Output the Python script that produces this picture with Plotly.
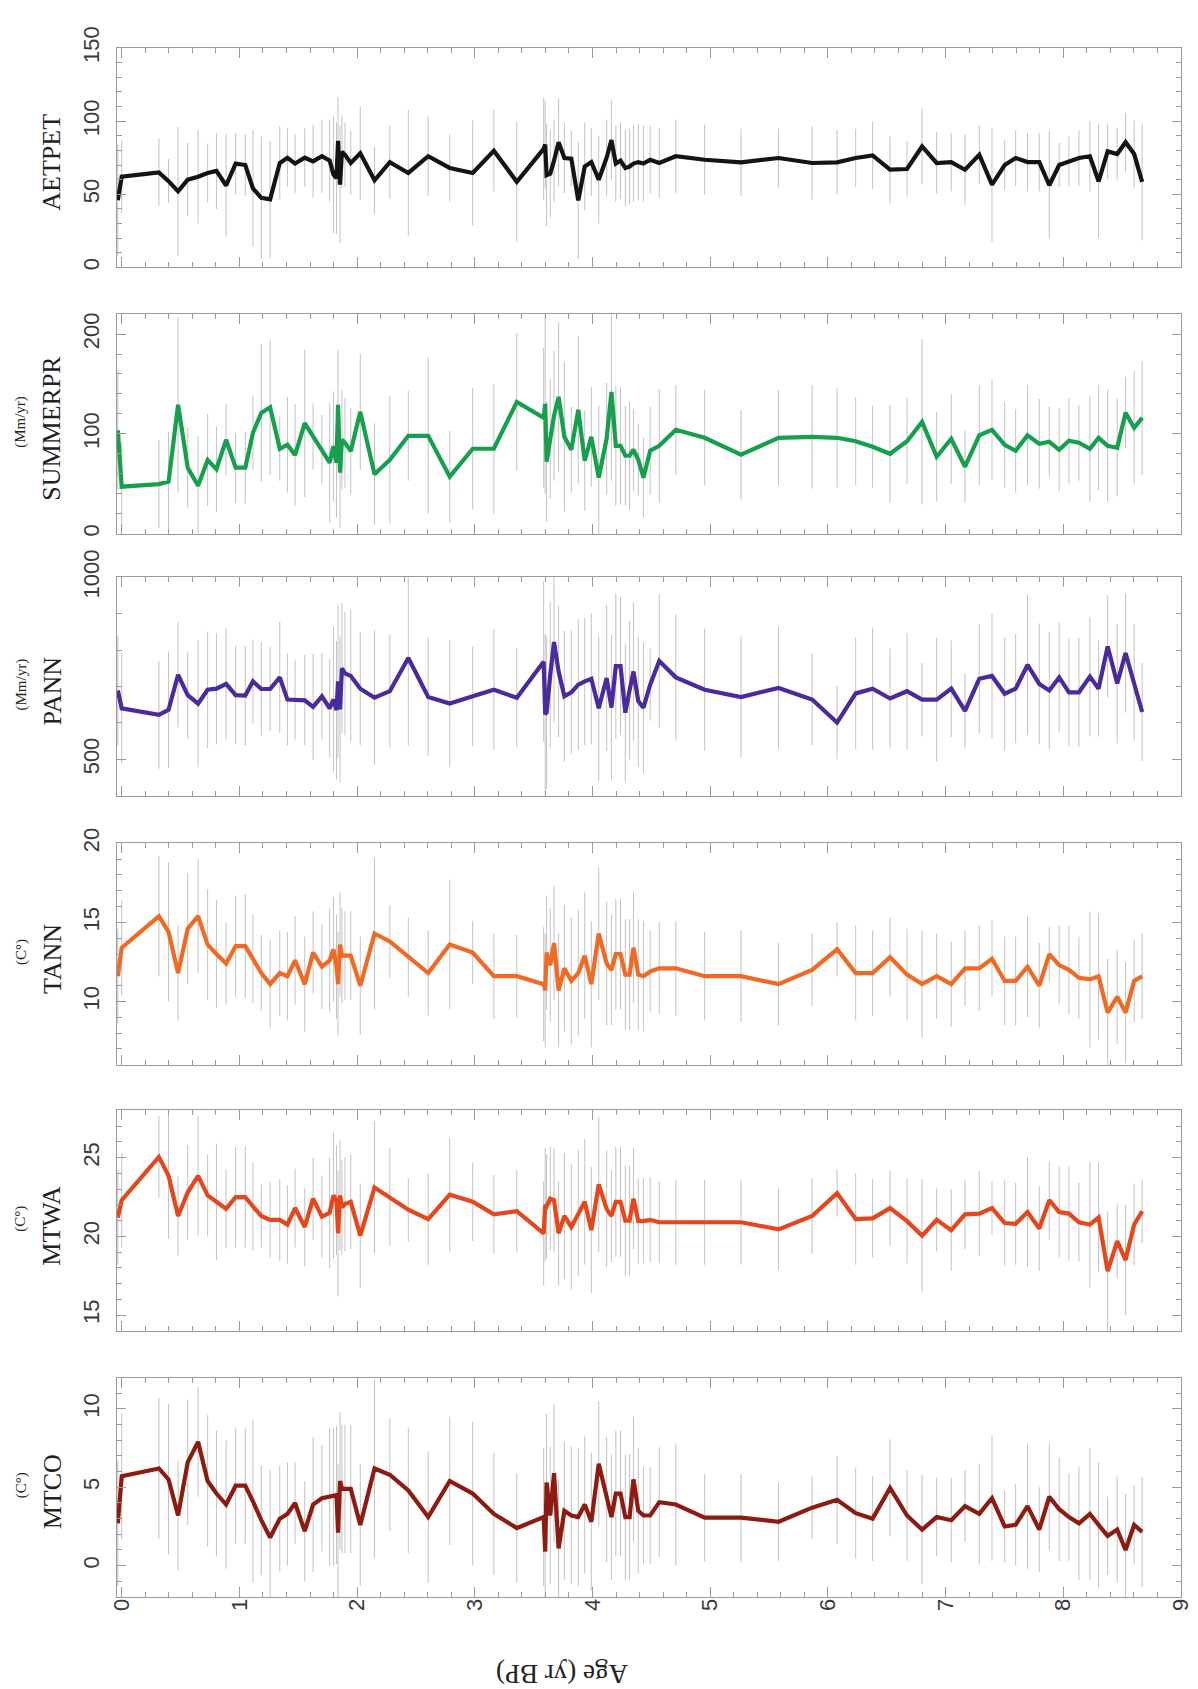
import plotly.graph_objects as go

# ---------------- data ----------------
AGES = [
    -0.033, 0.000, 0.316, 0.398, 0.479, 0.561, 0.649, 0.730, 0.805, 0.887,
    0.968, 1.050, 1.115, 1.186, 1.261, 1.343, 1.408, 1.473, 1.555, 1.626,
    1.701, 1.767, 1.799, 1.825, 1.838, 1.855, 1.871, 1.897, 1.946, 2.027,
    2.148, 2.278, 2.435, 2.604, 2.787, 2.982, 3.162, 3.357, 3.585, 3.598,
    3.610, 3.641, 3.673, 3.712, 3.761, 3.820, 3.879, 3.934, 3.990, 4.053,
    4.120, 4.161, 4.198, 4.238, 4.279, 4.315, 4.348, 4.389, 4.433, 4.490,
    4.567, 4.708, 4.953, 5.262, 5.581, 5.866, 6.078, 6.236, 6.380, 6.528,
    6.672, 6.800, 6.924, 7.048, 7.165, 7.286, 7.394, 7.502, 7.595, 7.696,
    7.796, 7.881, 7.965, 8.048, 8.133, 8.226, 8.300, 8.377, 8.458, 8.529,
    8.602, 8.670]

AETPET = [
    46, 62, 65, 59, 52, 60, 62, 64.6, 66, 56,
    71, 70, 54, 47.6, 46.5, 71.4, 75, 71, 75, 72.5,
    76, 73, 63.5, 61, 86.5, 56.6, 79, 77, 71.4, 78,
    59.6, 72, 64.6, 76, 68, 64.6, 79.8, 58.5, 81, 84,
    63, 64, 73, 85.6, 74.8, 74.3, 45.8, 69, 72, 60,
    75, 87, 71, 73, 68, 69, 71, 72, 71, 73.6,
    71.4, 76, 73.6, 71.8, 74.8, 71.4, 71.8, 74.8, 76.6, 66.8,
    67.3, 82.7, 71.4, 72, 66.8, 77, 56.6, 70, 74.8, 72,
    72, 56.2, 70, 72.5, 74.8, 76, 58.9, 79.3, 77.5, 85.6,
    77.5, 58.5]

SUMMERPR = [
    103.5, 47, 49.6, 52, 129, 66, 48, 73.7, 64.5, 94,
    66, 66, 101, 121, 126.6, 85, 89, 78.7, 110.7, 97.5,
    84, 71, 87.6, 71, 129, 61, 94, 91, 82.6, 122,
    59.5, 74, 98, 98, 57, 85, 85, 132, 116, 130,
    72, 95, 118, 137, 97, 84, 124, 73, 97, 56,
    95, 142, 88, 88, 78, 78, 84, 74, 56, 83,
    88, 104, 96, 79, 96, 97, 96, 92.6, 87, 80,
    92.6, 112, 77, 95, 67, 98.5, 104, 89, 83, 98.5,
    90, 92, 84, 93, 91, 85, 96, 88, 86, 121,
    106, 116]

PANN = [
    689, 640, 622, 636, 732, 676, 653, 691, 694, 707,
    676, 675, 714, 693, 693, 725, 664, 664, 662, 644,
    673, 640, 664, 635, 714, 637, 750, 736, 729, 694,
    669, 687, 778, 671, 653, 673, 691, 669, 768, 624,
    628, 732, 822, 741, 673, 684, 705, 714, 721, 640,
    723, 642, 756, 756, 628, 690, 741, 660, 642, 705,
    770, 725, 691, 671, 696, 664, 601, 681, 694, 667,
    687, 664, 664, 694, 633, 721, 729, 680, 694, 759,
    707, 689, 725, 684, 684, 727, 694, 810, 708, 792,
    711, 630]

TANN = [
    11.6, 13.4, 15.4, 14.4, 11.8, 14.6, 15.4, 13.6, 13.0, 12.4,
    13.5, 13.5, 12.7, 11.8, 11.1, 11.8, 11.6, 12.6, 11.1, 13.1,
    12.2, 12.6, 13.3, 12.2, 11.1, 13.6, 12.9, 12.9, 12.9, 11.0,
    14.3, 13.8, 12.8, 11.8, 13.6, 13.1, 11.6, 11.6, 11.1, 10.7,
    13.1, 12.3, 13.7, 10.7, 12.1, 11.3, 11.8, 12.9, 11.1, 14.3,
    12.4, 12.0, 13.0, 13.0, 11.7, 11.7, 13.4, 11.7, 11.6, 11.9,
    12.1, 12.1, 11.6, 11.6, 11.1, 12.0, 13.3, 11.8, 11.8, 12.8,
    11.7, 11.1, 11.6, 11.1, 12.1, 12.1, 12.7, 11.3, 11.3, 12.2,
    11.0, 13.0, 12.3, 12.0, 11.5, 11.4, 11.6, 9.3, 10.3, 9.3,
    11.3, 11.6]

MTWA = [
    21.2, 22.3, 25.05, 23.85, 21.3, 22.8, 23.85, 22.6, 22.2, 21.75,
    22.5, 22.5, 21.9, 21.3, 21.05, 21.05, 20.75, 21.8, 20.6, 22.4,
    21.25, 21.5, 22.6, 22.3, 20.2, 22.6, 21.85, 22.05, 22.2, 20.05,
    23.1, 22.5, 21.7, 21.1, 22.65, 22.2, 21.4, 21.6, 20.2, 22.0,
    21.9, 22.4, 22.3, 20.2, 21.3, 20.6, 21.5, 22.2, 20.4, 23.3,
    21.75, 21.3, 22.2, 22.2, 21.0, 21.0, 22.4, 20.97, 20.97, 21.05,
    20.9, 20.9, 20.9, 20.9, 20.45, 21.3, 22.75, 21.1, 21.15, 21.8,
    20.97, 20.05, 21.05, 20.4, 21.4, 21.45, 21.8, 20.85, 20.8, 21.55,
    20.5, 22.3, 21.55, 21.45, 20.9, 20.75, 21.2, 17.8, 19.7, 18.5,
    20.75, 21.6]

MTCO = [
    2.7, 5.7, 6.2, 5.5, 3.2, 6.6, 7.9, 5.4, 4.6, 3.9,
    5.1, 5.1, 4.1, 2.9, 1.8, 3.0, 3.3, 4.0, 2.2, 3.9,
    4.3, 4.4, 4.4, 4.5, 2.1, 5.4, 4.9, 4.9, 4.9, 2.6,
    6.2, 5.8, 4.8, 3.1, 5.4, 4.6, 3.3, 2.4, 3.1, 0.9,
    5.3, 3.2, 5.9, 1.1, 3.5, 3.2, 3.1, 3.9, 2.8, 6.5,
    4.2, 3.1, 4.6, 4.6, 3.1, 3.1, 5.5, 3.5, 3.2, 3.2,
    4.05, 3.9, 3.06, 3.06, 2.8, 3.7, 4.2, 3.35, 3.0, 4.96,
    3.2, 2.3, 3.1, 2.9, 3.8, 3.3, 4.3, 2.5, 2.6, 3.8,
    2.3, 4.4, 3.6, 3.1, 2.7, 3.3, 2.6, 1.9, 2.3, 1.0,
    2.6, 2.15]

# half-lengths of the grey uncertainty bars
AETPET_ERR = [
    38, 25, 23, 15, 44, 25, 32, 20, 26, 35,
    21, 21, 40, 42, 40, 25, 20, 20, 20, 25,
    25, 28, 40, 38, 30, 40, 25, 22, 22, 32,
    23, 25, 43, 27, 23, 36, 28, 41, 35, 30,
    35, 30, 28, 30, 24, 19, 40, 30, 23, 30,
    26, 27, 26, 26, 26, 26, 26, 26, 26, 23,
    24, 25, 24, 23, 20, 25, 22, 20, 23, 23,
    19, 26, 21, 20, 24, 20, 39, 17, 19, 20,
    20, 37, 15, 17, 19, 24, 39, 19, 18, 20,
    23, 40]

SUMMERPR_ERR = [
    60, 45, 44, 50, 88, 40, 50, 46, 43, 36,
    35, 36, 37, 69, 68, 32, 48, 51, 74, 33,
    35, 60, 55, 55, 55, 55, 50, 45, 43, 58,
    51, 64, 45, 78, 46, 61, 65, 69, 70, 90,
    60, 60, 65, 75, 75, 43, 74, 50, 50, 72,
    56, 89, 60, 59, 50, 54, 41, 36, 40, 44,
    57, 45, 48, 45, 48, 52, 50, 44, 41, 49,
    43, 83, 45, 45, 36, 50, 50, 43, 42, 50,
    45, 35, 42, 43, 38, 53, 53, 56, 49, 36,
    57, 57]

PANN_ERR = [
    150, 150, 148, 160, 144, 120, 175, 160, 153, 153,
    135, 137, 115, 128, 115, 153, 126, 110, 124, 146,
    119, 135, 200, 190, 210, 200, 180, 170, 180, 155,
    185, 155, 240, 162, 175, 137, 166, 137, 220, 220,
    210, 200, 220, 180, 180, 170, 180, 175, 180, 200,
    200, 200, 200, 190, 190, 190, 190, 180, 180, 99,
    184, 173, 168, 166, 168, 126, 101, 153, 168, 137,
    160, 101, 170, 133, 103, 150, 171, 155, 150, 193,
    166, 162, 150, 148, 150, 164, 132, 141, 164, 164,
    160, 135]

TANN_ERR = [
    3.0, 3.0, 3.8, 4.4, 3.0, 3.5, 3.6, 3.5, 3.4, 2.6,
    3.2, 3.3, 2.8, 2.4, 2.8, 2.7, 2.8, 2.8, 3.0, 2.6,
    2.7, 3.3, 3.3, 3.3, 3.3, 3.3, 3.0, 2.8, 2.8, 3.1,
    4.8, 2.3, 2.5, 2.7, 4.1, 2.0, 2.7, 2.6, 3.6, 3.6,
    3.6, 3.6, 3.6, 3.6, 4.0, 4.0, 4.0, 4.0, 4.0, 4.2,
    3.9, 3.5, 3.5, 3.5, 3.5, 3.5, 3.5, 3.5, 3.5, 2.6,
    2.9, 3.0, 2.8, 2.9, 2.6, 2.3, 1.7, 3.0, 2.7, 2.5,
    2.9, 3.4, 2.7, 2.7, 2.4, 2.7, 2.4, 2.8, 2.8, 3.2,
    2.7, 1.7, 2.5, 2.8, 2.6, 4.3, 4.0, 3.4, 3.0, 3.2,
    2.6, 2.7]

MTWA_ERR = [
    3.0, 3.0, 2.6, 4.0, 2.5, 3.0, 3.8, 2.6, 3.7, 2.5,
    3.2, 3.2, 2.8, 2.0, 2.4, 2.6, 2.5, 2.5, 2.5, 2.6,
    2.6, 3.5, 4.0, 3.5, 4.0, 3.5, 3.0, 3.0, 3.0, 3.3,
    4.2, 3.1, 2.0, 2.9, 3.6, 2.5, 2.5, 2.6, 3.3, 3.6,
    3.3, 3.3, 3.3, 3.3, 4.0, 4.0, 4.0, 4.0, 4.0, 4.3,
    3.7, 2.9, 3.5, 3.5, 3.5, 3.5, 3.2, 2.7, 2.7, 2.7,
    2.6, 2.7, 2.7, 2.7, 2.6, 2.4, 1.5, 2.9, 2.5, 2.4,
    2.7, 3.6, 2.0, 2.6, 2.2, 2.7, 1.7, 2.7, 2.6, 3.5,
    2.7, 2.5, 2.9, 3.0, 2.5, 4.0, 3.5, 3.8, 2.4, 3.5,
    2.6, 2.0]

MTCO_ERR = [
    4.0, 4.0, 4.5, 4.8, 3.5, 4.0, 3.5, 4.2, 4.0, 4.1,
    3.7, 3.7, 5.2, 3.5, 4.3, 3.4, 3.3, 2.6, 3.2, 4.3,
    3.4, 4.4, 4.4, 4.4, 4.4, 4.4, 4.1, 4.1, 4.1, 3.9,
    5.7, 3.6, 4.0, 4.2, 4.1, 4.6, 3.9, 3.5, 4.4, 4.4,
    4.4, 4.4, 4.4, 4.4, 4.4, 4.4, 4.4, 4.4, 4.4, 4.0,
    4.0, 4.0, 4.0, 4.0, 4.0, 4.0, 4.0, 4.0, 3.1, 3.1,
    3.5, 3.9, 2.8, 2.8, 2.5, 2.0, 2.8, 2.9, 2.7, 3.1,
    2.9, 3.5, 2.5, 2.7, 2.3, 3.2, 4.0, 2.3, 2.6, 4.0,
    2.7, 3.4, 3.3, 2.8, 3.6, 4.2, 4.0, 2.5, 3.4, 3.6,
    2.5, 3.5]

PANEL_NAMES = ["AETPET", "SUMMERPR", "PANN", "TANN", "MTWA", "MTCO"]
PANEL_UNITS = [None, "(Mm/yr)", "(Mm/yr)", "(C°)", "(C°)", "(C°)"]
X_TICKS = [0, 1, 2, 3, 4, 5, 6, 7, 8, 9]
X_TITLE = "Age (yr BP)"

# ---------------- styling / layout ----------------
COLORS = ["#141414", "#16a04e", "#4a2a9c", "#f06a24", "#e6461c", "#8e1b10"]
RANGES = [[0, 150], [0, 220], [400, 1000], [6, 20], [14, 28], [-2, 12]]
MAJOR = [50, 100, 500, 5, 5, 5]
MINOR = [10, 20, 100, 1, 1, 1]
VALUES = [AETPET, SUMMERPR, PANN, TANN, MTWA, MTCO]
ERRS = [AETPET_ERR, SUMMERPR_ERR, PANN_ERR, TANN_ERR, MTWA_ERR, MTCO_ERR]

W, H = 1198, 1689
ML, MR, MT, MB = 109, 25, 29, 100
PH = H - MT - MB
PW = W - ML - MR
# panel pixel tops/bottoms
PIX = [(29, 250), (297, 518), (562, 782), (830, 1053), (1099, 1321), (1368, 1589)]


def py(p):
    return (H - MB - p) / PH


def px(p):
    return (p - ML) / PW


for v, e in zip(VALUES, ERRS):
    assert len(v) == len(AGES) and len(e) == len(AGES)

fig = go.Figure()
layout = {}
annotations = []
SANS = "Liberation Sans, Arial, Helvetica, sans-serif"
SERIF = "Liberation Serif, Times New Roman, serif"
FRAME = "#9a9a9a"

for i in range(6):
    k = i + 1
    xs = "" if k == 1 else str(k)
    xa, ya = "x" + xs, "y" + xs
    fig.add_trace(go.Scatter(
        x=AGES, y=VALUES[i], mode="markers",
        marker=dict(size=1, color="rgba(0,0,0,0)"),
        error_y=dict(type="data", array=ERRS[i], visible=True,
                     color="rgba(135,135,135,0.5)", thickness=1, width=0),
        xaxis=xa, yaxis=ya, showlegend=False, hoverinfo="skip"))
    fig.add_trace(go.Scatter(
        x=AGES, y=VALUES[i], mode="lines",
        line=dict(color=COLORS[i], width=4.2),
        xaxis=xa, yaxis=ya, showlegend=False))

    top, bot = PIX[i]
    last = (k == 6)
    layout["xaxis" + xs] = dict(
        domain=[0, 1], range=[-0.04, 9.0], anchor=ya,
        tickmode="array", tickvals=X_TICKS,
        ticks="inside", ticklen=10, tickcolor=FRAME, tickwidth=1,
        minor=dict(dtick=0.2, tick0=0, ticks="inside", ticklen=5,
                   tickcolor=FRAME, showgrid=False),
        showticklabels=last, tickangle=-90, ticklabelstandoff=-8,
        tickfont=dict(family=SANS, size=22, color="#3a3a3a"),
        showline=True, linecolor=FRAME, linewidth=1, mirror="allticks",
        showgrid=False, zeroline=False)
    layout["yaxis" + xs] = dict(
        domain=[py(bot), py(top)], range=RANGES[i], anchor=xa,
        tickmode="linear", tick0=0, dtick=MAJOR[i],
        ticks="inside", ticklen=9, tickcolor=FRAME, tickwidth=1,
        minor=dict(dtick=MINOR[i], tick0=0, ticks="inside", ticklen=5,
                   tickcolor=FRAME, showgrid=False),
        tickangle=-90, ticklabelstandoff=8,
        tickfont=dict(family=SANS, size=22, color="#3a3a3a"),
        showline=True, linecolor=FRAME, linewidth=1, mirror="allticks",
        showgrid=False, zeroline=False)

    cy = py((top + bot) / 2 + 5)
    annotations.append(dict(
        text=PANEL_NAMES[i], xref="paper", yref="paper", x=px(44), y=cy,
        xanchor="center", yanchor="middle", textangle=-90, showarrow=False,
        font=dict(family=SERIF, size=26, color="#222222")))
    if PANEL_UNITS[i]:
        annotations.append(dict(
            text=PANEL_UNITS[i], xref="paper", yref="paper", x=px(13),
            y=py((top + bot) / 2 - 2),
            xanchor="center", yanchor="middle", textangle=-90, showarrow=False,
            font=dict(family=SERIF, size=15, color="#222222")))

annotations.append(dict(
    text=X_TITLE, xref="paper", yref="paper", x=px(554), y=py(1666),
    xanchor="center", yanchor="middle", textangle=180, showarrow=False,
    font=dict(family=SERIF, size=27, color="#222222")))

fig.update_layout(
    width=W, height=H,
    margin=dict(l=ML, r=MR, t=MT, b=MB),
    plot_bgcolor="white", paper_bgcolor="white",
    showlegend=False, annotations=annotations, **layout)

fig.write_html("out.html")
